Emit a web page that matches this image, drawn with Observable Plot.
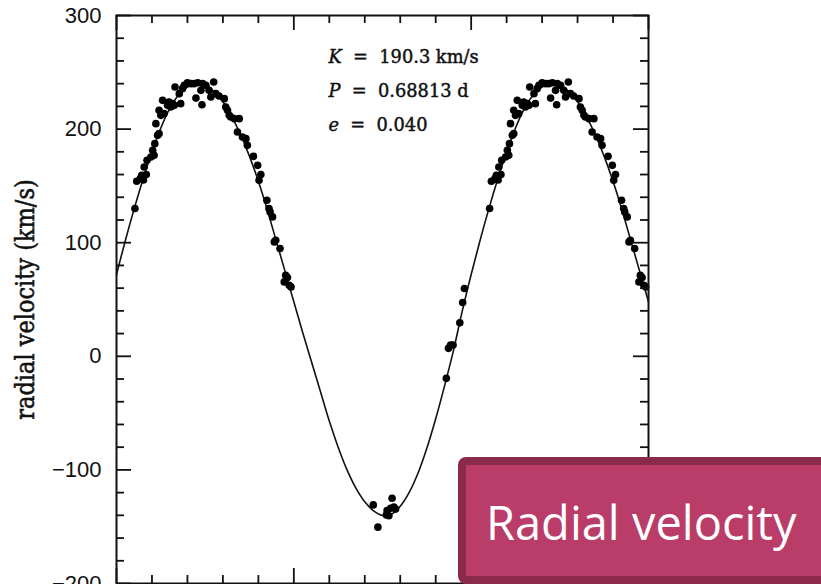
<!DOCTYPE html>
<html>
<head>
<meta charset="utf-8">
<script src="https://cdn.jsdelivr.net/npm/d3@7"></script>
<script src="https://cdn.jsdelivr.net/npm/@observablehq/plot@0.6"></script>
<style>
  html, body { margin: 0; padding: 0; background: #fff; }
  #wrap { position: relative; width: 821px; height: 584px; overflow: hidden; }
</style>
</head>
<body>
<div id="wrap"></div>
<script>
// ---- data (phase in [0,1), radial velocity km/s) ----
const obsPhase = [
  0.224, 0.237, 0.261, 0.263, 0.268, 0.273, 0.277, 0.282, 0.287,
  0.430, 0.436, 0.442, 0.449, 0.468, 0.476, 0.481,
  0.552, 0.557, 0.567, 0.576, 0.584, 0.571, 0.578, 0.586, 0.597, 0.606,
  0.602, 0.608, 0.616, 0.620, 0.611, 0.620, 0.625, 0.630, 0.634, 0.644,
  0.648, 0.653, 0.658, 0.663, 0.665, 0.681, 0.677, 0.686, 0.691, 0.700,
  0.710, 0.719, 0.729, 0.743, 0.724, 0.741, 0.738, 0.752, 0.774, 0.761,
  0.766, 0.780, 0.789, 0.804, 0.808, 0.813, 0.818, 0.822, 0.832, 0.846,
  0.841, 0.855, 0.865, 0.869, 0.886, 0.898, 0.907, 0.902, 0.924, 0.930,
  0.933, 0.940, 0.945, 0.949, 0.961, 0.977, 0.982, 0.973, 0.987, 0.992
];
const obsVel = [
  -130.8, -150.4, -139.6, -135.8, -140.4, -133.7, -124.9, -132.8, -134.5,
  -19.4, 7.0, 9.9, 9.9, 29.5, 47.4, 59.7,
  130.1, 154.1, 156.4, 155.2, 160.0, 159.3, 166.6, 172.5, 175.4, 176.9,
  181.3, 187.2, 194.5, 196.0, 204.8, 216.5, 212.1, 225.3, 213.6, 220.9,
  223.8, 219.4, 222.4, 220.9, 237.0, 222.4, 231.2, 235.6, 238.5, 240.8,
  240.0, 240.0, 240.8, 240.0, 227.3, 221.5, 234.1, 238.5, 241.4, 234.1,
  228.2, 231.2, 229.1, 226.8, 219.4, 216.5, 212.1, 210.6, 209.2, 209.2,
  197.4, 193.0, 191.6, 185.7, 176.0, 168.1, 160.0, 154.9, 137.4, 130.1,
  127.1, 122.7, 100.7, 102.2, 94.9, 71.4, 69.4, 65.5, 62.6, 61.1
];
// fitted orbit
const fitPhase = [
  0.000, 0.025, 0.050, 0.075, 0.100, 0.125, 0.150, 0.175, 0.200, 0.225,
  0.250, 0.275, 0.300, 0.325, 0.350, 0.375, 0.400, 0.425, 0.450, 0.475,
  0.500, 0.525, 0.550, 0.575, 0.600, 0.625, 0.650, 0.675, 0.700, 0.725,
  0.750, 0.775, 0.800, 0.825, 0.850, 0.875, 0.900, 0.925, 0.950, 0.975, 1.000
];
const fitVel = [
  48, 21, -5, -31, -57, -80, -100, -116, -128, -136,
  -140, -139, -132, -120, -103, -81, -55, -26, 5, 40,
  72, 102, 130, 156, 180, 201, 218, 230, 237, 240,
  239, 233, 224, 211, 195, 176, 154, 129, 102, 75, 48
];
const yMajor = [-200, -100, 0, 100, 200, 300];
const yMinor = [-180, -160, -140, -120, -80, -60, -40, -20, 20, 40, 60, 80, 120, 140, 160, 180, 220, 240, 260, 280];
const xMajor = [-0.5, 0, 0.5, 1.0];
const xMinor = [-0.4, -0.3, -0.2, -0.1, 0.1, 0.2, 0.3, 0.4, 0.6, 0.7, 0.8, 0.9];
const yTitle = "radial velocity (km/s)";
const annotSymbol = ["K", "P", "e"];
const annotValue = ["190.3 km/s", "0.68813 d", "0.040"];
const badgeText = "Radial velocity";

// ---- tables ----
const obs = obsPhase.map((p, i) => ({phase: p, vel: obsVel[i]}));
const obsShown = obs.concat(obs.filter(d => d.phase >= 0.5).map(d => ({phase: d.phase - 1, vel: d.vel})));
const fit = fitPhase.map((p, i) => ({phase: p, vel: fitVel[i]}));
const fitShown = fit.filter(d => d.phase >= 0.5 && d.phase < 1).map(d => ({phase: d.phase - 1, vel: d.vel})).concat(fit);
const sp = "\u00a0";
const annotLines = annotSymbol.map((s, i) => s + sp + sp + "=" + sp + sp + annotValue[i]);

const W = 821, H = 584, mL = 116, mR = 173, mT = 15, mB = 1;
const fw = W - mL - mR, fh = H - mT - mB;
const ink = "#111";

const chart = Plot.plot({
  width: W, height: H,
  marginLeft: mL, marginRight: mR, marginTop: mT, marginBottom: mB,
  style: {fontFamily: "Liberation Sans, Arial, sans-serif", background: "#fff", color: ink, overflow: "visible"},
  x: {domain: [-0.5, 1.0], axis: null},
  y: {domain: [-200, 300], axis: null},
  marks: [
    Plot.line(fitShown, {x: "phase", y: "vel", stroke: ink, strokeWidth: 1.6, curve: "catmull-rom"}),
    Plot.dot(obsShown, {x: "phase", y: "vel", r: 3.8, fill: "#000", stroke: null}),
    // inward ticks on all four sides
    Plot.tickY(yMinor, {y: d => d, insetRight: fw - 8, stroke: ink, strokeWidth: 1.8}),
    Plot.tickY(yMajor, {y: d => d, insetRight: fw - 15, stroke: ink, strokeWidth: 1.8}),
    Plot.tickY(yMinor, {y: d => d, insetLeft: fw - 8, stroke: ink, strokeWidth: 1.8}),
    Plot.tickY(yMajor, {y: d => d, insetLeft: fw - 15, stroke: ink, strokeWidth: 1.8}),
    Plot.tickX(xMinor, {x: d => d, insetBottom: fh - 8, stroke: ink, strokeWidth: 1.8}),
    Plot.tickX(xMajor, {x: d => d, insetBottom: fh - 15, stroke: ink, strokeWidth: 1.8}),
    Plot.tickX(xMinor, {x: d => d, insetTop: fh - 8, stroke: ink, strokeWidth: 1.8}),
    Plot.tickX(xMajor, {x: d => d, insetTop: fh - 15, stroke: ink, strokeWidth: 1.8}),
    Plot.frame({stroke: ink, strokeWidth: 2}),
    Plot.axisY(yMajor, {
      anchor: "left", tickSize: 0, tickPadding: 15, fontSize: 22,
      fontFamily: "Liberation Sans, Arial, sans-serif", label: null,
      tickFormat: d => (d < 0 ? "\u2212" + Math.abs(d) : String(d))
    }),
    Plot.text([yTitle], {
      frameAnchor: "left", dx: -83, rotate: -90, lineAnchor: "bottom", textAnchor: "middle",
      fontSize: 22.5, fontFamily: "DejaVu Serif, serif", fill: ink, stroke: ink, strokeWidth: 0.5
    }),
    Plot.text([annotLines.join("\n")], {
      frameAnchor: "top-left", dx: 212, dy: 115, lineAnchor: "bottom", textAnchor: "start",
      lineHeight: 1.91, fontSize: 17.8, fontFamily: "DejaVu Serif, serif", fill: ink, stroke: ink, strokeWidth: 0.45
    })
  ]
});

// post-process: italic symbols and a slightly taller y title
d3.select(chart).selectAll("text").each(function() {
  if (this.textContent === yTitle) {
    const tr = this.getAttribute("transform") || "";
    this.setAttribute("transform", tr + " scale(1,1.15)");
  }
});
d3.select(chart).selectAll("tspan").each(function() {
  const t = this.textContent;
  if (annotLines.includes(t)) {
    this.textContent = "";
    const it = document.createElementNS("http://www.w3.org/2000/svg", "tspan");
    it.setAttribute("font-style", "italic");
    it.textContent = t[0];
    this.appendChild(it);
    this.appendChild(document.createTextNode(t.slice(1)));
  }
});

// overlay badge
const g = d3.select(chart).append("g").attr("text-anchor", "start");
g.append("rect").attr("x", 462).attr("y", 461).attr("width", 420).attr("height", 119)
  .attr("rx", 4).attr("fill", "#B93C69").attr("stroke", "#8B2A4B").attr("stroke-width", 8);
g.append("text").attr("x", 486).attr("y", 540).attr("fill", "#fff").attr("text-anchor", "start")
  .attr("font-family", "Open Sans, sans-serif").attr("font-size", 47).text(badgeText);

document.getElementById("wrap").appendChild(chart);
</script>
</body>
</html>
